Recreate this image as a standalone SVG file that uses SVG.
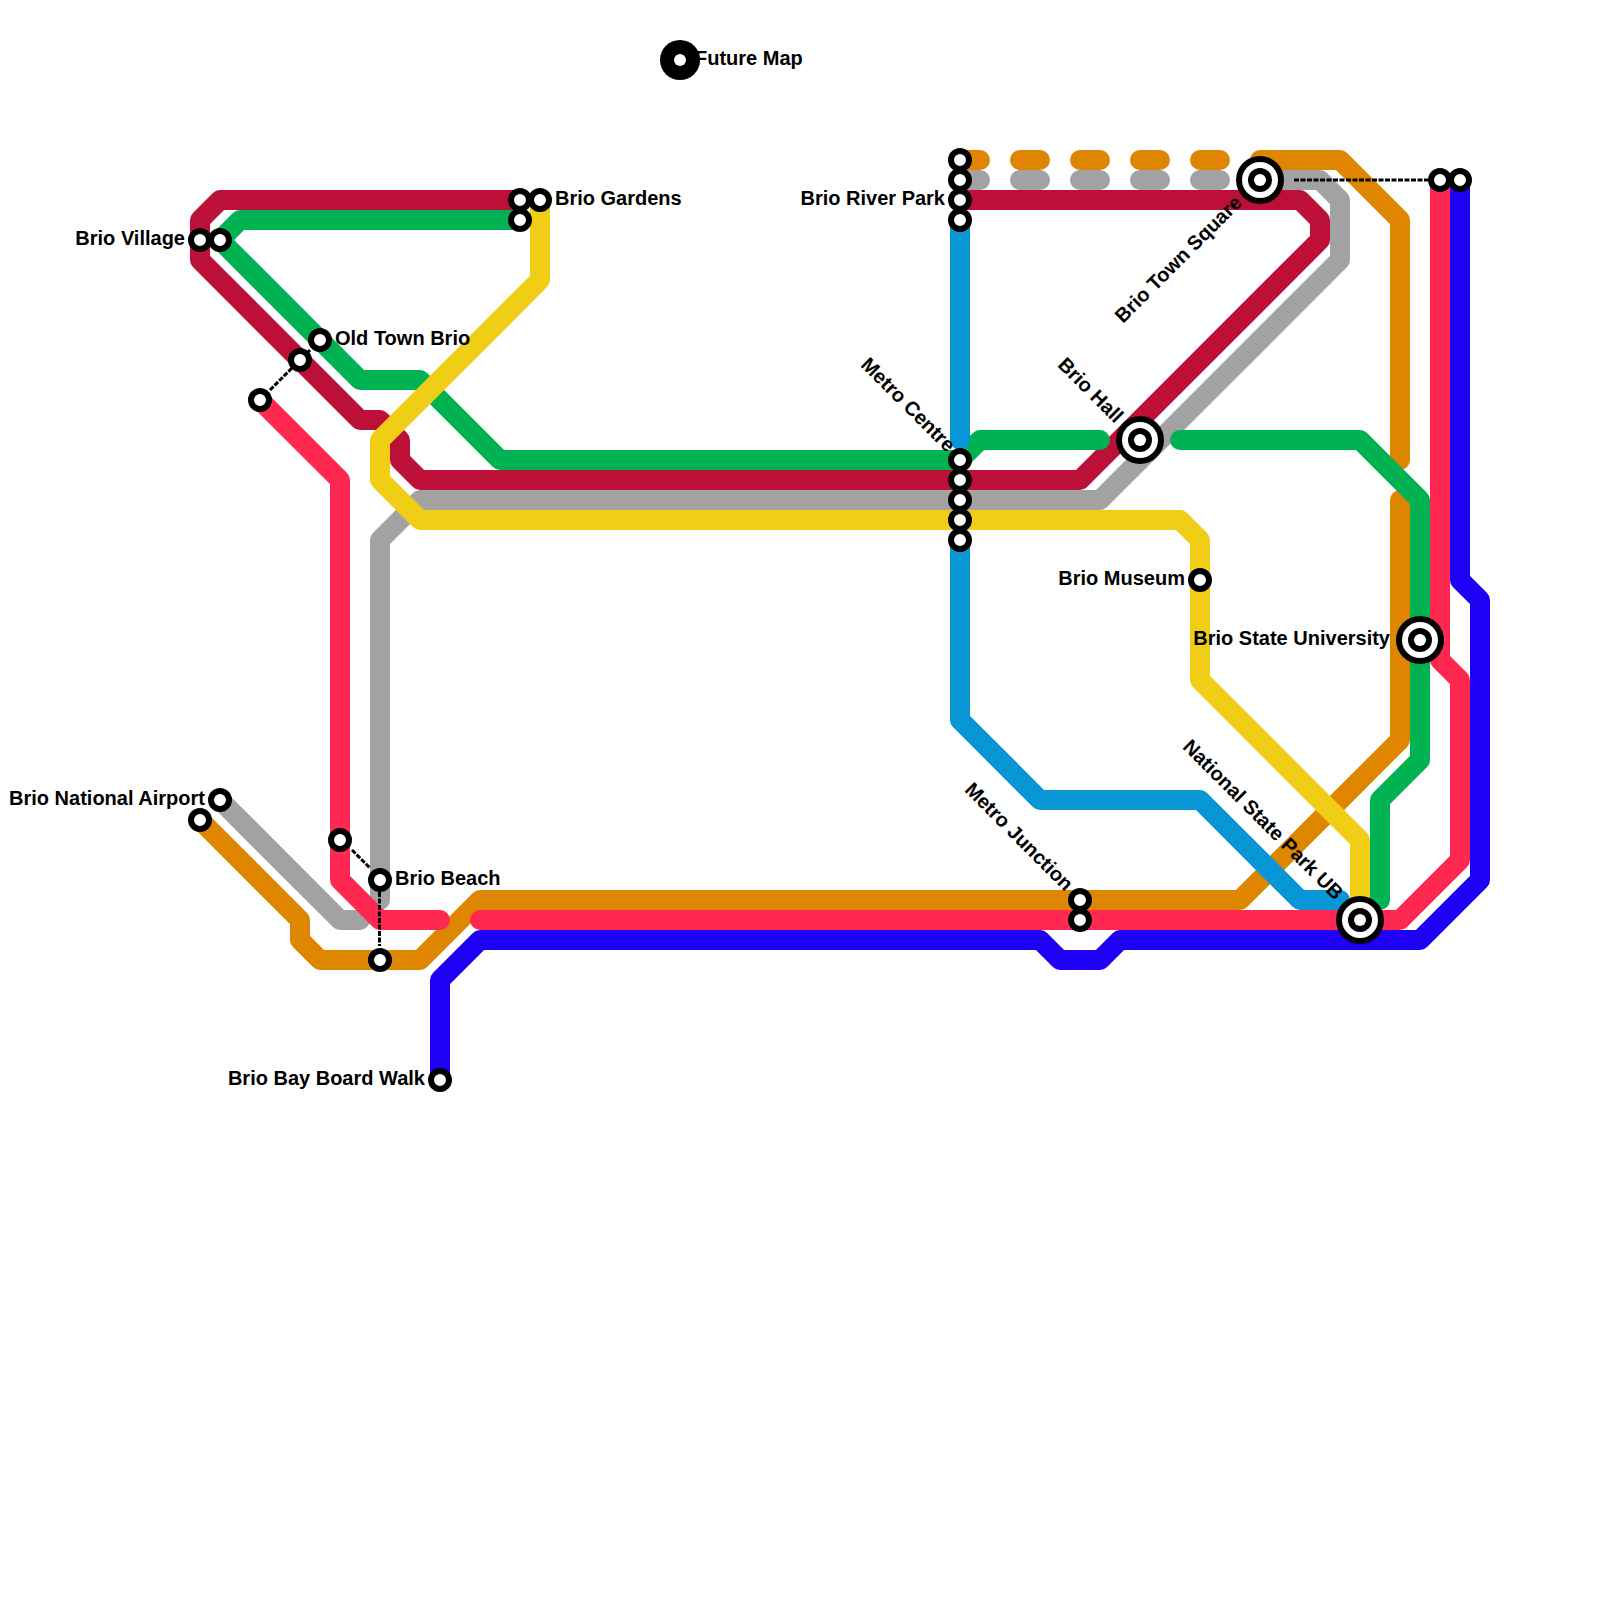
<svg xmlns="http://www.w3.org/2000/svg" width="1600" height="1600" viewBox="0 0 1600 1600">
<style>
.l{fill:none;stroke-width:20;stroke-linecap:round;stroke-linejoin:round}
.grey{stroke:#a2a2a2}.orange{stroke:#df8600}.crimson{stroke:#bd1038}.green{stroke:#00b251}.cyan{stroke:#0896d7}.yellow{stroke:#f0ce15}.pink{stroke:#ff2850}.blue{stroke:#1e00f5}
.d{fill:none;stroke:#000;stroke-width:3;stroke-dasharray:5 1.5}
.s{fill:#fff;stroke:#000;stroke-width:6}
.k{fill:#000}.w{fill:#fff}
text{font-family:"Liberation Sans",Arial,sans-serif;font-weight:700;font-size:20px;fill:#000}
.e{text-anchor:end}
</style>
<rect width="1600" height="1600" fill="#fff"/>
<g id="connectors">
<path class="l grey" d="M960 180H1260" stroke-dasharray="20 40"/>
<path class="l grey" d="M1260 180H1320L1340 200V260L1100 500H420L380 540V900"/>
<path class="l grey" d="M220 800L340 920H360"/>
<path class="l orange" d="M960 160H1260" stroke-dasharray="20 40"/>
<path class="l orange" d="M1260 160H1340L1400 220V460"/>
<path class="l orange" d="M1400 500V740L1240 900H480L420 960H320L300 940V920L200 820"/>
<path class="l crimson" d="M520 200H220L200 220V260L360 420H380L400 440V460L420 480H1080L1320 240V220L1300 200H960"/>
<path class="l green" d="M520 220H240L220 240L360 380H420L500 460H960L980 440H1100"/>
<path class="l green" d="M1180 440H1360L1420 500V760L1380 800V900"/>
<path class="l cyan" d="M960 220V440"/>
<path class="l cyan" d="M960 540V720L1040 800H1200L1300 900H1340"/>
<path class="l yellow" d="M540 200V280L380 440V480L420 520H1180L1200 540V680L1360 840V920"/>
<path class="l pink" d="M260 400L340 480V880L380 920H440"/>
<path class="l pink" d="M480 920H1400L1460 860V680L1440 660V180"/>
<path class="l blue" d="M440 1080V980L480 940H1040L1060 960H1100L1120 940H1420L1480 880V600L1460 580V180"/>
<path class="d" d="M270 390L310 350"/>
<path class="d" d="M352 850L370 868"/>
<path class="d" d="M379.500 892V946"/>
<path class="d" d="M1294 180H1428"/>
</g>
<g id="future-map"><circle class="k" cx="680" cy="60" r="20"/><circle class="w" cx="680" cy="60" r="6"/><text x="695" y="65">Future Map</text></g>
<g id="brio-village"><circle class="s" cx="200" cy="240" r="9"/><circle class="s" cx="220" cy="240" r="9"/><text class="e" x="185" y="245">Brio Village</text></g>
<g id="brio-gardens"><circle class="s" cx="520" cy="200" r="9"/><circle class="s" cx="520" cy="220" r="9"/><circle class="s" cx="540" cy="200" r="9"/><text x="555" y="205">Brio Gardens</text></g>
<g id="old-town-brio"><circle class="s" cx="260" cy="400" r="9"/><circle class="s" cx="300" cy="360" r="9"/><circle class="s" cx="320" cy="340" r="9"/><text x="335" y="345">Old Town Brio</text></g>
<g id="brio-river-park"><circle class="s" cx="960" cy="160" r="9"/><circle class="s" cx="960" cy="180" r="9"/><circle class="s" cx="960" cy="200" r="9"/><circle class="s" cx="960" cy="220" r="9"/><text class="e" x="945" y="205">Brio River Park</text></g>
<g id="metro-centre"><circle class="s" cx="960" cy="460" r="9"/><circle class="s" cx="960" cy="480" r="9"/><circle class="s" cx="960" cy="500" r="9"/><circle class="s" cx="960" cy="520" r="9"/><circle class="s" cx="960" cy="540" r="9"/><text class="e" transform="translate(947 453) rotate(45)">Metro Centre</text></g>
<g id="brio-town-square"><circle class="k" cx="1260" cy="180" r="24"/><circle class="w" cx="1260" cy="180" r="18"/><circle class="k" cx="1260" cy="180" r="12"/><circle class="w" cx="1260" cy="180" r="6"/><text class="e" transform="translate(1243 204) rotate(-45)">Brio Town Square</text></g>
<g id="east-stops"><circle class="s" cx="1440" cy="180" r="9"/><circle class="s" cx="1460" cy="180" r="9"/></g>
<g id="brio-hall"><circle class="k" cx="1140" cy="440" r="24"/><circle class="w" cx="1140" cy="440" r="18"/><circle class="k" cx="1140" cy="440" r="12"/><circle class="w" cx="1140" cy="440" r="6"/><text class="e" transform="translate(1115 424) rotate(45)">Brio Hall</text></g>
<g id="brio-museum"><circle class="s" cx="1200" cy="580" r="9"/><text class="e" x="1185" y="585">Brio Museum</text></g>
<g id="brio-state-university"><circle class="k" cx="1420" cy="640" r="24"/><circle class="w" cx="1420" cy="640" r="18"/><circle class="k" cx="1420" cy="640" r="12"/><circle class="w" cx="1420" cy="640" r="6"/><text class="e" x="1390" y="645">Brio State University</text></g>
<g id="national-state-park-ub"><circle class="k" cx="1360" cy="920" r="24"/><circle class="w" cx="1360" cy="920" r="18"/><circle class="k" cx="1360" cy="920" r="12"/><circle class="w" cx="1360" cy="920" r="6"/><text class="e" transform="translate(1335 901) rotate(45)">National State Park UB</text></g>
<g id="metro-junction"><circle class="s" cx="1080" cy="900" r="9"/><circle class="s" cx="1080" cy="920" r="9"/><text class="e" transform="translate(1065 892) rotate(45)">Metro Junction</text></g>
<g id="brio-national-airport"><circle class="s" cx="220" cy="800" r="9"/><circle class="s" cx="200" cy="820" r="9"/><text class="e" x="205" y="805">Brio National Airport</text></g>
<g id="brio-beach"><circle class="s" cx="340" cy="840" r="9"/><circle class="s" cx="380" cy="880" r="9"/><circle class="s" cx="380" cy="960" r="9"/><text x="395" y="885">Brio Beach</text></g>
<g id="brio-bay-board-walk"><circle class="s" cx="440" cy="1080" r="9"/><text class="e" x="425" y="1085">Brio Bay Board Walk</text></g>
</svg>
